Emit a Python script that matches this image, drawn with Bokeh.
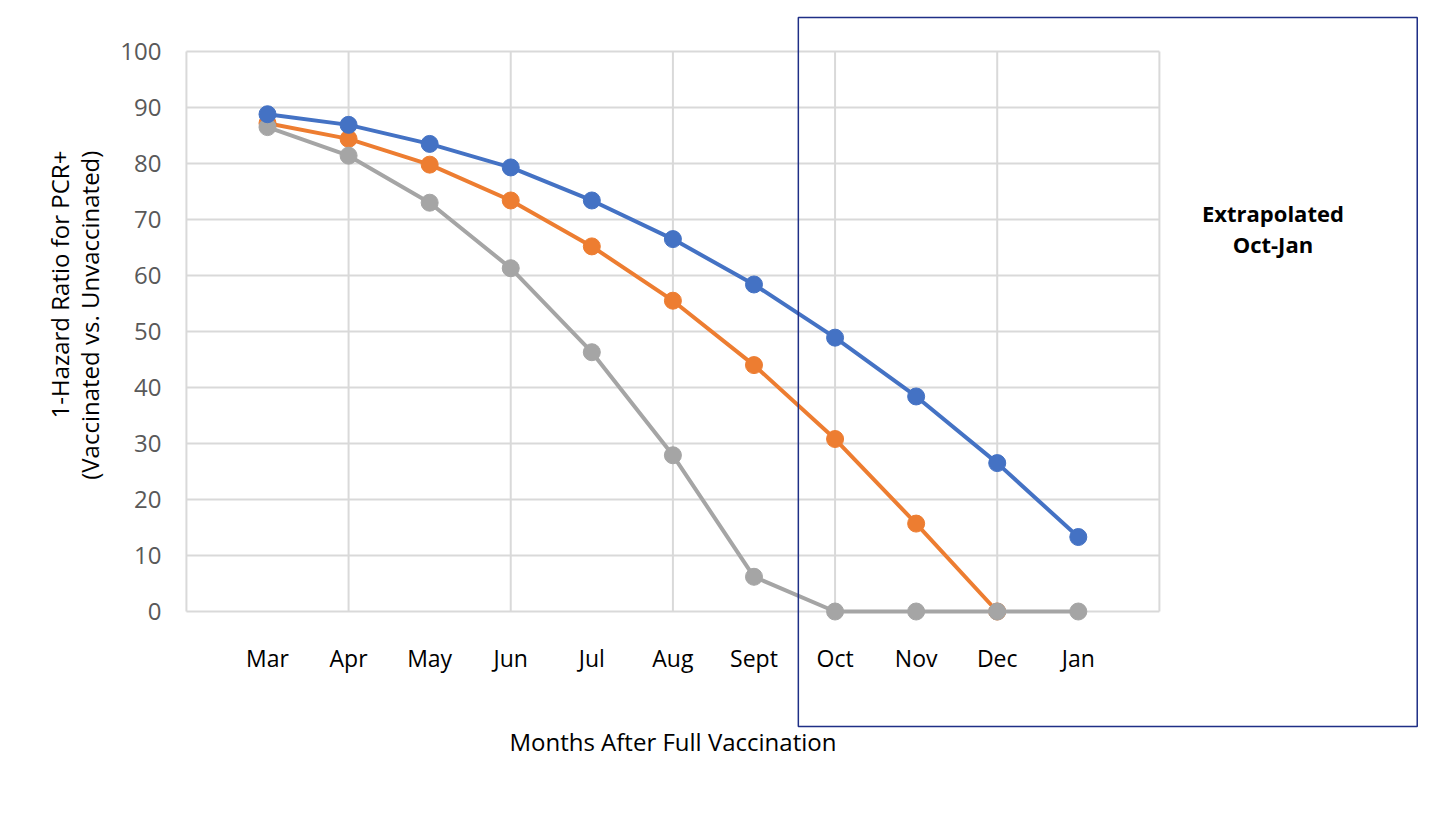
import math
from bokeh.plotting import figure
from bokeh.models import FixedTicker, Range1d, Label, BoxAnnotation, ColumnDataSource, LinearAxis
from bokeh.embed import file_html
from bokeh.resources import INLINE

months = ["Mar", "Apr", "May", "Jun", "Jul", "Aug", "Sept", "Oct", "Nov", "Dec", "Jan"]
series_blue = [88.8, 86.9, 83.5, 79.3, 73.4, 66.5, 58.4, 48.9, 38.4, 26.5, 13.3]
series_orange = [87.2, 84.4, 79.8, 73.4, 65.2, 55.5, 44.0, 30.8, 15.7, 0.0, float("nan")]
series_gray = [86.5, 81.4, 73.0, 61.3, 46.3, 27.9, 6.2, 0.0, 0.0, 0.0, 0.0]
y_ticks = list(range(0, 101, 10))

x_idx = list(range(len(months)))

FONT = "Open Sans"
BLUE = "#4472C4"
ORANGE = "#ED7D31"
GRAY = "#A5A5A5"
GRID = "#D9D9D9"

# plotting area covers the whole canvas; axes are pinned inside with fixed_location
p = figure(width=1440, height=800, output_backend="svg", toolbar_location=None,
           x_range=Range1d(-3.293, 14.467), y_range=Range1d(-33.75, 109.11),
           x_axis_location=None, y_axis_location=None,
           min_border_left=0, min_border_right=0, min_border_top=0, min_border_bottom=0)
p.outline_line_color = None
p.background_fill_color = "white"
p.border_fill_color = "white"
p.xgrid.visible = False
p.ygrid.visible = False

x_left, x_right = -1, len(months)

# grid lines
grid_x = list(range(x_left, x_right + 1, 2))
p.segment(x0=[x_left] * len(y_ticks), x1=[x_right] * len(y_ticks), y0=y_ticks, y1=y_ticks,
          line_color=GRID, line_width=2)
p.segment(x0=grid_x, x1=grid_x, y0=[y_ticks[0]] * len(grid_x), y1=[y_ticks[-1]] * len(grid_x),
          line_color=GRID, line_width=2)

# axes
xaxis = LinearAxis(fixed_location=y_ticks[0], ticker=FixedTicker(ticks=x_idx),
                   major_label_overrides={i: m for i, m in enumerate(months)})
xaxis.axis_line_color = None
xaxis.major_tick_line_color = None
xaxis.minor_tick_line_color = None
xaxis.major_label_standoff = 24
xaxis.major_label_text_font = FONT
xaxis.major_label_text_font_size = "23px"
xaxis.major_label_text_color = "#000000"
p.add_layout(xaxis, "below")

yaxis = LinearAxis(fixed_location=x_left, ticker=FixedTicker(ticks=y_ticks))
yaxis.axis_line_color = None
yaxis.major_tick_line_color = None
yaxis.minor_tick_line_color = None
yaxis.major_label_standoff = 19
yaxis.major_label_text_font = FONT
yaxis.major_label_text_font_size = "24px"
yaxis.major_label_text_color = "#595959"
p.add_layout(yaxis, "left")

# series
for vals, col in [(series_orange, ORANGE), (series_gray, GRAY), (series_blue, BLUE)]:
    src = ColumnDataSource(dict(x=x_idx, y=vals))
    p.line("x", "y", source=src, line_color=col, line_width=4)
    p.scatter("x", "y", source=src, size=17, fill_color=col, line_color=col)

# extrapolation box
box = BoxAnnotation(left=6.547, right=14.18, bottom=-20.54, top=106.07,
                    fill_alpha=0, line_color="#1F2F86", line_alpha=1.0, line_width=1.5)
p.add_layout(box)

p.add_layout(Label(x=12.40, y=71.25, text="Extrapolated", text_font=FONT, text_font_size="22px",
                   text_font_style="bold", text_align="center", text_baseline="middle",
                   text_color="#000000"))
p.add_layout(Label(x=12.40, y=65.7, text="Oct-Jan", text_font=FONT, text_font_size="22px",
                   text_font_style="bold", text_align="center", text_baseline="middle",
                   text_color="#000000"))

# axis titles
p.add_layout(Label(x=-2.56, y=82.3, text="1-Hazard Ratio for PCR+", angle=math.pi / 2,
                   text_font=FONT, text_font_size="24px", text_align="right",
                   text_baseline="middle", text_color="#000000"))
p.add_layout(Label(x=-2.19, y=82.3, text="(Vaccinated vs. Unvaccinated)", angle=math.pi / 2,
                   text_font=FONT, text_font_size="24px", text_align="right",
                   text_baseline="middle", text_color="#000000"))
p.add_layout(Label(x=5.0, y=-23.2, text="Months After Full Vaccination",
                   text_font=FONT, text_font_size="24px", text_align="center",
                   text_baseline="middle", text_color="#000000"))

open("out.html", "w").write(file_html(p, INLINE))
